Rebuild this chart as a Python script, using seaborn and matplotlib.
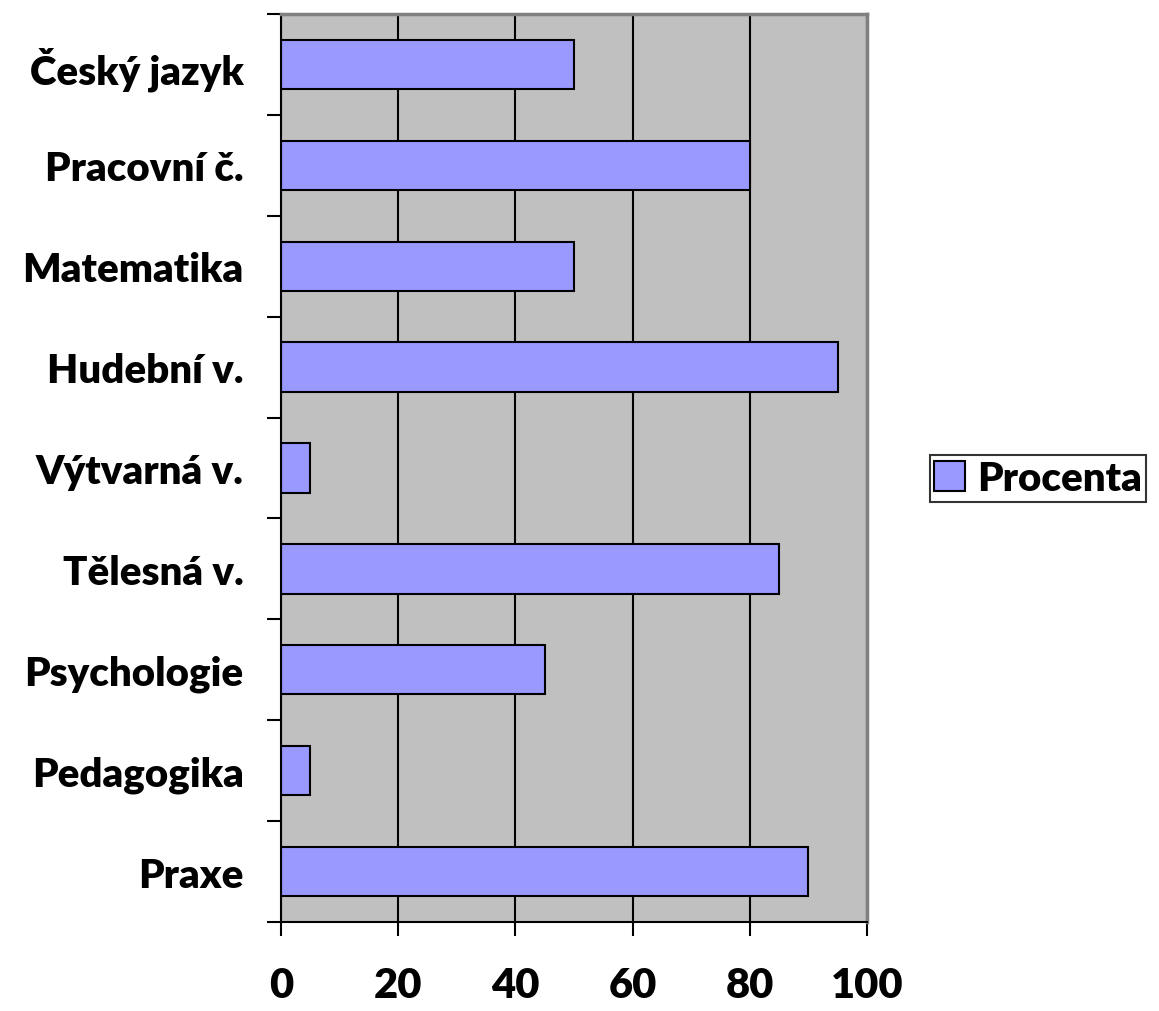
import numpy as np
import pandas as pd
import seaborn as sns
import matplotlib.pyplot as plt

predmety = ['Český jazyk', 'Pracovní č.', 'Matematika', 'Hudební v.', 'Výtvarná v.',
            'Tělesná v.', 'Psychologie', 'Pedagogika', 'Praxe']
procenta = [50, 80, 50, 95, 5, 85, 45, 5, 90]
x_ticks = [0, 20, 40, 60, 80, 100]

df = pd.DataFrame({'predmet': predmety, 'Procenta': procenta})

sns.set_style('white')
plt.rcParams['font.family'] = ['Lato', 'DejaVu Sans']
plt.rcParams['font.weight'] = 'heavy'
plt.rcParams['text.color'] = 'black'
plt.rcParams['xtick.color'] = 'black'
plt.rcParams['ytick.color'] = 'black'

fig = plt.figure(figsize=(11.59, 10.12), dpi=100)
ax = fig.add_axes([0.2425, 0.088, 0.5055, 0.897])
ax.set_facecolor('#C0C0C0')

sns.barplot(data=df, y='predmet', x='Procenta', order=predmety, orient='h',
            color='#9999FF', saturation=1, edgecolor='black', linewidth=1.5,
            width=0.49, ax=ax, label='Procenta')

ax.set_xlim(0, 100)
ax.set_ylim(len(predmety) - 0.5, -0.5)
ax.set_xticks(x_ticks)
ax.set_xticklabels([str(t) for t in x_ticks], fontsize=30, fontweight='heavy')
ax.xaxis.grid(True, color='black', linewidth=1.5)
ax.set_axisbelow(True)
ax.tick_params(axis='x', length=10, width=1.5, color='black', labelcolor='black',
               pad=22, bottom=True)

ax.set_yticks(range(len(predmety)))
ax.set_yticklabels(predmety, fontsize=29, fontweight='heavy')
ax.set_yticks(np.arange(-0.5, len(predmety)), minor=True)
ax.tick_params(axis='y', which='major', length=0, pad=27, labelcolor='black')
ax.tick_params(axis='y', which='minor', length=10, width=1.5, color='black', left=True)

ax.set_xlabel('')
ax.set_ylabel('')
for s in ['left', 'bottom']:
    ax.spines[s].set_color('black')
    ax.spines[s].set_linewidth(1.5)
for s in ['top', 'right']:
    ax.spines[s].set_color('#808080')
    ax.spines[s].set_linewidth(2.5)

leg = ax.legend(loc='center left', bbox_to_anchor=(0.802, 0.526), bbox_transform=fig.transFigure,
                frameon=True, fancybox=False, edgecolor='black',
                prop={'weight': 'heavy', 'size': 29}, handlelength=0.75, handleheight=0.75,
                handletextpad=0.3, borderpad=0.12, borderaxespad=0)
leg.get_frame().set_linewidth(1.5)
for t in leg.get_texts():
    t.set_color('black')

fig.savefig('out.png', dpi=100)
